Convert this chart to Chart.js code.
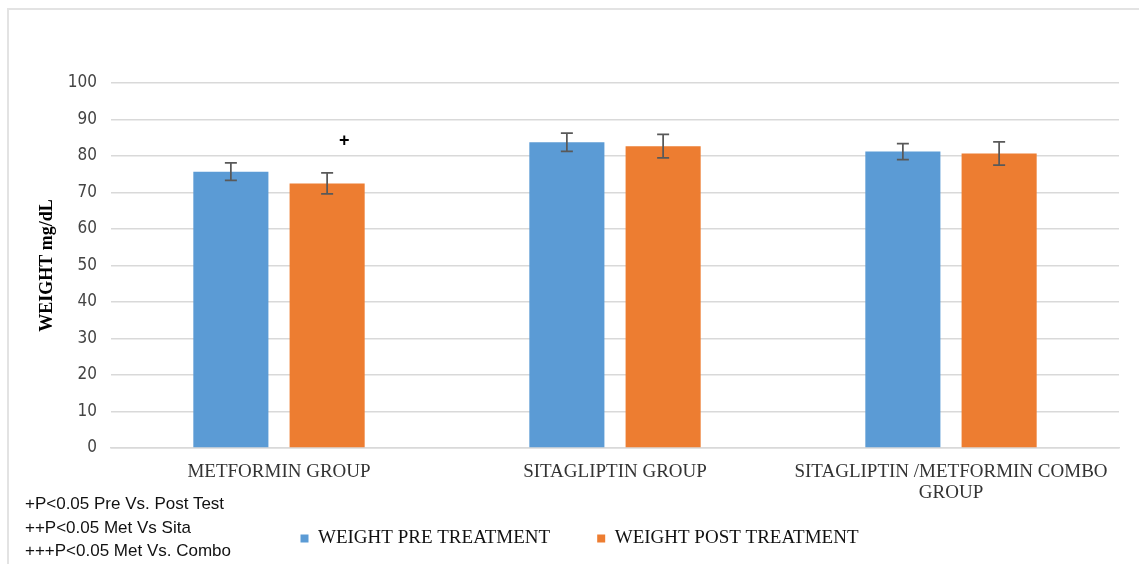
<!DOCTYPE html>
<html>
<head>
<meta charset="utf-8">
<script src="https://cdn.jsdelivr.net/npm/chart.js@4.4.0/dist/chart.umd.min.js"></script>
<style>
  html, body { margin: 0; padding: 0; background: #fff; overflow: hidden; }
  #wrap { position: relative; width: 1139px; height: 564px; overflow: hidden; }
  #notes { position: absolute; left: 25px; top: 492px; font-family: "Liberation Sans", Arial, sans-serif;
           font-size: 17px; color: #111; line-height: 23.5px; }
  canvas { position: absolute; left: 0; top: 0; }
</style>
</head>
<body>
<div id="wrap">
  <canvas id="chart" width="1139" height="564"></canvas>
  <div id="notes">
    <div>+P&lt;0.05 Pre Vs. Post Test</div>
    <div>++P&lt;0.05 Met Vs Sita</div>
    <div>+++P&lt;0.05 Met Vs. Combo</div>
  </div>
</div>
<script>
  // Data
  var groups = ["METFORMIN GROUP", "SITAGLIPTIN GROUP", ["SITAGLIPTIN /METFORMIN COMBO", "GROUP"]];
  var preWeight = [75.7, 83.8, 81.2];
  var preError = [2.4, 2.5, 2.2];
  var postWeight = [72.5, 82.7, 80.7];
  var postError = [2.9, 3.2, 3.2];
  var postMarks = ["+", "", ""];
  var yTicks = [0, 10, 20, 30, 40, 50, 60, 70, 80, 90, 100];

  var serif = "'Liberation Serif', 'Times New Roman', serif";

  // Error bars + significance marks
  var errorBars = {
    id: "errorBars",
    afterLayout: function (chart) {
      // let the two-line category label draw below the axis box
      chart.scales.x.bottom = chart.height;
    },
    beforeDraw: function (chart) {
      // outer frame, top and left edges only
      var c = chart.ctx;
      c.save();
      c.strokeStyle = "#e3e3e3";
      c.lineWidth = 2;
      c.beginPath();
      c.moveTo(8, chart.height); c.lineTo(8, 9); c.lineTo(chart.width, 9);
      c.stroke();
      c.restore();
    },
    afterDatasetsDraw: function (chart) {
      var ctx = chart.ctx;
      var y = chart.scales.y;
      chart.data.datasets.forEach(function (ds, di) {
        var meta = chart.getDatasetMeta(di);
        meta.data.forEach(function (bar, i) {
          var v = ds.data[i], e = ds.errors[i];
          var top = y.getPixelForValue(v + e);
          var bot = y.getPixelForValue(v - e);
          ctx.save();
          ctx.strokeStyle = "#595959";
          ctx.lineWidth = 1.75;
          ctx.beginPath();
          ctx.moveTo(bar.x, top); ctx.lineTo(bar.x, bot);
          ctx.moveTo(bar.x - 6, top); ctx.lineTo(bar.x + 6, top);
          ctx.moveTo(bar.x - 6, bot); ctx.lineTo(bar.x + 6, bot);
          ctx.stroke();
          if (ds.marks && ds.marks[i]) {
            ctx.fillStyle = "#000";
            ctx.font = "bold 18px 'Liberation Sans', Arial, sans-serif";
            ctx.textAlign = "center";
            ctx.textBaseline = "middle";
            ctx.fillText(ds.marks[i], bar.x + 17, y.getPixelForValue(84.2));
          }
          ctx.restore();
        });
      });
    }
  };

  var ctx = document.getElementById("chart").getContext("2d");
  var myChart = new Chart(ctx, {
    type: "bar",
    data: {
      labels: groups,
      datasets: [{
        label: "WEIGHT PRE TREATMENT",
        data: preWeight,
        errors: preError,
        backgroundColor: "#5b9bd5",
        borderColor: "#5b9bd5",
        barPercentage: 0.78,
        categoryPercentage: 0.573
      }, {
        label: "WEIGHT POST TREATMENT",
        data: postWeight,
        errors: postError,
        marks: postMarks,
        backgroundColor: "#ed7d31",
        borderColor: "#ed7d31",
        barPercentage: 0.78,
        categoryPercentage: 0.573
      }]
    },
    options: {
      responsive: false,
      animation: false,
      layout: { padding: { left: 40, right: 20, top: 83, bottom: 6 } },
      plugins: {
        tooltip: { enabled: false },
        legend: {
          position: "bottom",
          labels: {
            boxWidth: 8, boxHeight: 8, padding: 47,
            color: "#111",
            font: { family: serif, size: 19 }
          }
        }
      },
      scales: {
        x: {
          grid: { display: false },
          border: { display: true, color: "#d9d9d9", width: 1.5 },
          ticks: { color: "#333", padding: 6, maxRotation: 0, font: { family: serif, size: 19, lineHeight: 1.1 } },
          afterFit: function (scale) { scale.height = 34; }
        },
        y: {
          min: 0, max: 100,
          afterBuildTicks: function (scale) {
            scale.ticks = yTicks.map(function (v) { return { value: v }; });
          },
          grid: { color: "#d9d9d9", lineWidth: 1.5, drawTicks: false },
          border: { display: false },
          ticks: { color: "#444", padding: 14, font: { family: "'DejaVu Sans Condensed', 'DejaVu Sans', sans-serif", size: 17 } },
          title: {
            display: true, text: "WEIGHT mg/dL", color: "#000",
            padding: { top: -3, bottom: 0 },
            font: { family: serif, size: 18, weight: "bold" }
          },
          afterFit: function (scale) { scale.width = 71; }
        }
      }
    },
    plugins: [errorBars]
  });
</script>
</body>
</html>
